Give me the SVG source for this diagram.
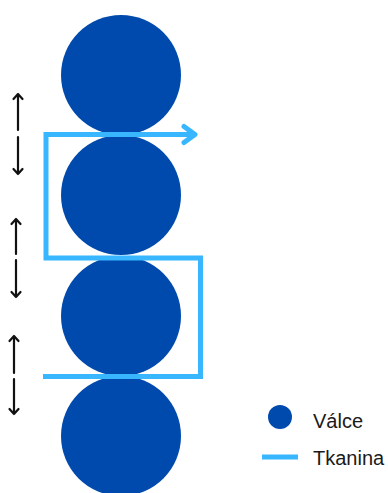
<svg xmlns="http://www.w3.org/2000/svg" width="388" height="493" viewBox="0 0 388 493">
<style>
.roll{fill:#004AAD}
.fab{fill:none;stroke:#38B6FF;stroke-width:5}
.arr{fill:none;stroke:#111;stroke-width:2.2;stroke-linecap:round;stroke-linejoin:round}
.lbl{font-family:"Liberation Sans",Arial,sans-serif;font-size:20px;fill:#1a1a1a}
</style>
<rect width="388" height="493" fill="#fff"/>
<g id="roll1"><circle class="roll" cx="121" cy="75" r="60"/></g>
<g id="roll2"><circle class="roll" cx="121" cy="195" r="60"/></g>
<g id="roll3"><circle class="roll" cx="121" cy="316" r="60"/></g>
<g id="roll4"><circle class="roll" cx="121" cy="436" r="60"/></g>
<g id="connectors">
<path class="fab" d="M43 376.5 H200.5 V258 H46 V134.5 H195"/>
<path class="fab" d="M184 126.5 L195 134.5 L184 142.5" stroke-linecap="round" stroke-linejoin="round"/>
<path class="arr" d="M18 130 V94 M13.5 99 L18 94 L22.5 99"/>
<path class="arr" d="M18 137 V174 M13.5 169 L18 174 L22.5 169"/>
<path class="arr" d="M16 254 V219 M11.5 224 L16 219 L20.5 224"/>
<path class="arr" d="M16 260 V297 M11.5 292 L16 297 L20.5 292"/>
<path class="arr" d="M14 373 V336 M9.5 341 L14 336 L18.5 341"/>
<path class="arr" d="M14 379 V414 M9.5 409 L14 414 L18.5 409"/>
</g>
<g id="legend">
<circle class="roll" cx="280" cy="417" r="12"/>
<text class="lbl" x="313" y="428">Válce</text>
<line x1="262" y1="457" x2="298" y2="457" stroke="#38B6FF" stroke-width="5"/>
<text class="lbl" x="313" y="465">Tkanina</text>
</g>
</svg>
